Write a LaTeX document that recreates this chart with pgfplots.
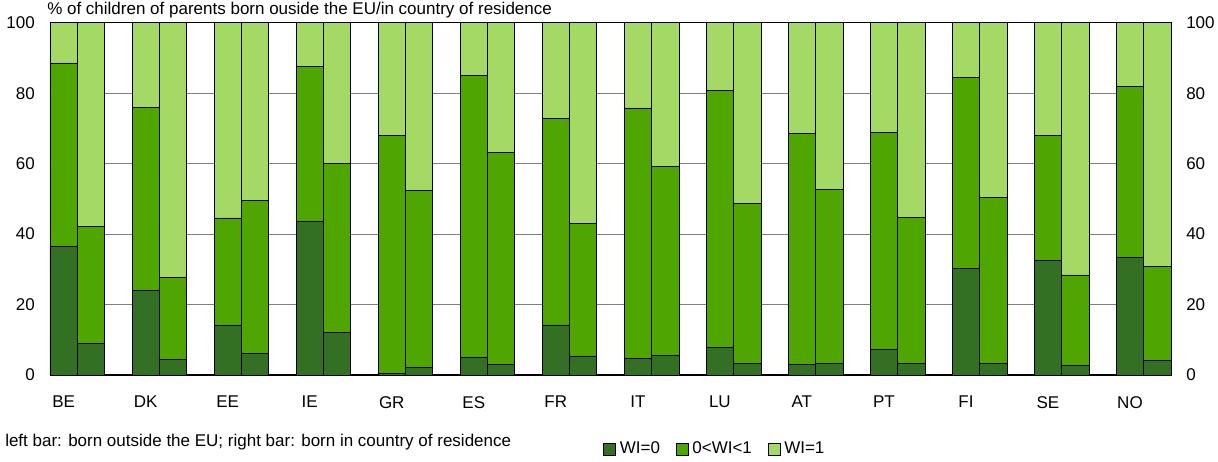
\documentclass[border=0pt]{standalone}
\usepackage{pgfplots}
\usepackage{pgfplotstable}
\pgfplotsset{compat=1.18}
\usepackage{fontspec}
\setmainfont{Liberation Sans}
\definecolor{wizero}{RGB}{51,112,35}
\definecolor{wimid}{RGB}{79,166,0}
\definecolor{wione}{RGB}{164,217,102}
\definecolor{gridgray}{RGB}{128,128,128}

% x: slot position (left bar = born outside EU, right bar = born in country of residence)
\pgfplotstableread{
x    wizero wimid wione
0.5  36.6 52.0 11.4
1.5  8.9  33.3 57.8
3.5  24.0 52.0 24.0
4.5  4.4  23.3 72.3
6.5  14.0 30.6 55.4
7.5  6.1  43.5 50.4
9.5  43.7 43.9 12.4
10.5 12.0 48.1 39.9
12.5 0.4  67.7 31.9
13.5 2.1  50.2 47.7
15.5 4.9  80.1 15.0
16.5 2.9  60.3 36.8
18.5 14.2 58.7 27.1
19.5 5.4  37.6 57.0
21.5 4.7  71.1 24.2
22.5 5.6  53.5 40.9
24.5 7.8  73.1 19.1
25.5 3.2  45.6 51.2
27.5 3.1  65.5 31.4
28.5 3.3  49.3 47.4
30.5 7.3  61.6 31.1
31.5 3.3  41.5 55.2
33.5 30.3 54.1 15.6
34.5 3.3  47.0 49.7
36.5 32.5 35.6 31.9
37.5 2.7  25.7 71.6
39.5 33.3 48.6 18.1
40.5 4.1  26.8 69.1
}\datatable

\begin{document}
\fontsize{12.75pt}{15pt}\selectfont
\begin{tikzpicture}
\useasboundingbox (-37.5pt,-64.5pt) rectangle (876pt,281.25pt);
\begin{axis}[
  at={(0,0)}, anchor=south west,
  scale only axis,
  width=840.75pt, height=264.2pt,
  xmin=0, xmax=41, ymin=0, ymax=100,
  ybar stacked, bar width=1, bar shift=0pt,
  xtick={0.5,3.5,6.5,9.5,12.5,15.5,18.5,21.5,24.5,27.5,30.5,33.5,36.5,39.5},
  xticklabels={BE,DK,EE,IE,GR,ES,FR,IT,LU,AT,PT,FI,SE,NO},
  ytick={0,20,40,60,80,100},
  major tick length=0pt,
  ymajorgrids, grid style={gridgray, line width=0.6pt},
  axis line style={black, line width=0.6pt},
  tick label style={font=\fontsize{12.75pt}{15pt}\selectfont},
  /pgf/number format/assume math mode=true,
  xticklabel style={anchor=north, yshift=-11.4pt},
  yticklabel style={anchor=east, xshift=-7pt},
  every axis plot/.append style={draw=black, line width=0.5pt},
  legend columns=3,
  legend style={draw=none, fill=none, at={(rel axis cs:0.4933,-0.21)}, anchor=west,
    font=\fontsize{12.75pt}{15pt}\selectfont, inner sep=0pt,
    /tikz/every odd column/.append style={column sep=1pt},
    /tikz/every even column/.append style={column sep=9.75pt},
    cells={anchor=west, inner sep=1pt}},
  legend image code/.code={\draw[#1, draw=black, line width=0.5pt] (0pt,-4.5pt) rectangle (9pt,4.5pt);},
  clip=false,
]
\addplot[fill=wizero] table[x=x, y=wizero] {\datatable};
\addplot[fill=wimid] table[x=x, y=wimid] {\datatable};
\addplot[fill=wione] table[x=x, y=wione] {\datatable};
\legend{WI=0, 0<WI<1, WI=1}
\draw[black, line width=1.3pt] (rel axis cs:0,0) -- (rel axis cs:1,0);
\node[anchor=base west, inner sep=0pt] at ([xshift=-2.25pt, yshift=6.5pt]rel axis cs:0,1) {\% of children of parents born ouside the EU/in country of residence};
\node[anchor=base west, inner sep=0pt] at ([xshift=-33.75pt, yshift=-53.25pt]rel axis cs:0,0) {left bar: born outside the EU; right bar: born in country of residence};
\end{axis}
\begin{axis}[
  at={(0,0)}, anchor=south west,
  scale only axis,
  width=840.75pt, height=264.2pt,
  xmin=0, xmax=41, ymin=0, ymax=100,
  axis x line=none, axis y line*=right,
  axis line style={draw=none},
  ytick={0,20,40,60,80,100},
  major tick length=0pt,
  tick label style={font=\fontsize{12.75pt}{15pt}\selectfont},
  /pgf/number format/assume math mode=true,
  yticklabel style={anchor=west, xshift=7pt},
]
\addplot[draw=none] coordinates {(0,0)};
\end{axis}
\end{tikzpicture}
\end{document}
